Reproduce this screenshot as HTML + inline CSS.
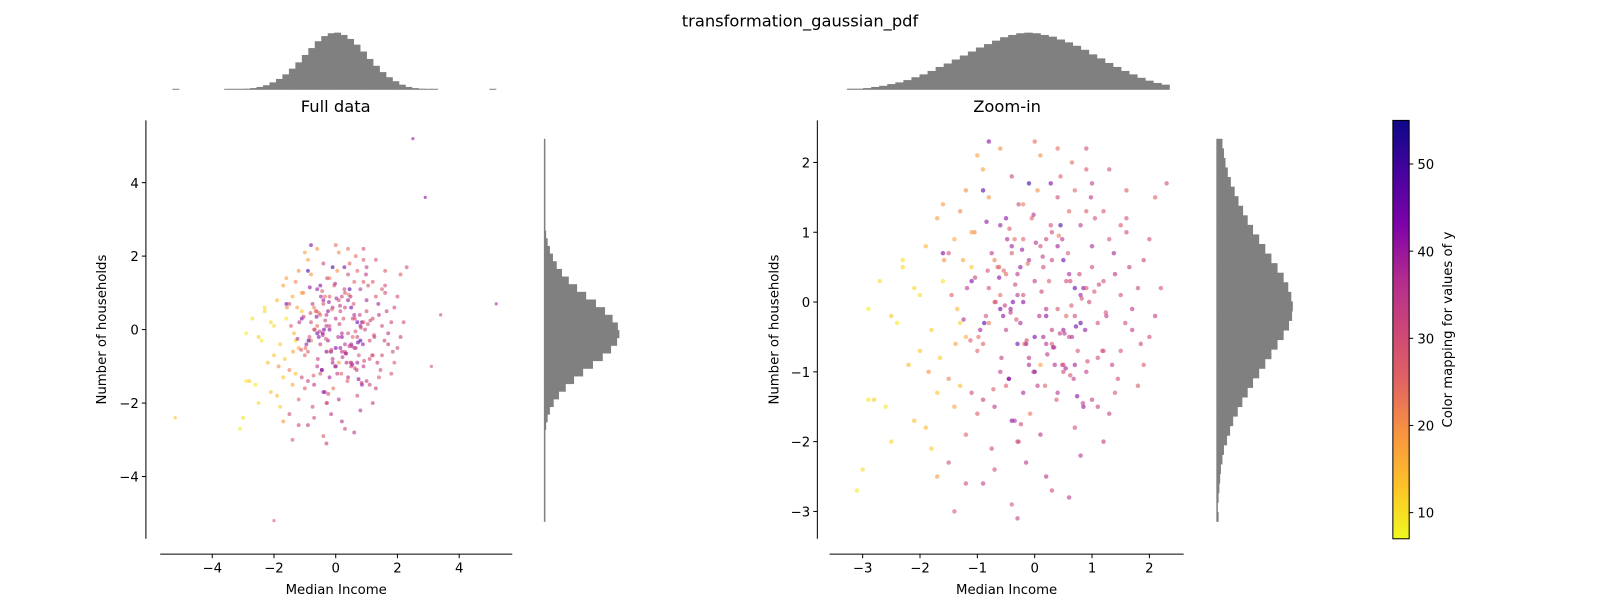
<!DOCTYPE html>
<html><head><meta charset="utf-8">
<style>
html,body{margin:0;padding:0;background:#fff;}
svg{display:block;font-family:"DejaVu Sans","Liberation Sans",sans-serif;}
</style></head>
<body>
<svg id="fig" width="1600" height="600" viewBox="0 0 1568 588" xmlns="http://www.w3.org/2000/svg">
<defs>
<linearGradient id="plasma" x1="0" y1="1" x2="0" y2="0">
<stop offset="0" stop-color="#f0f921"/><stop offset="0.125" stop-color="#fdc328"/><stop offset="0.25" stop-color="#f89540"/><stop offset="0.375" stop-color="#e16462"/><stop offset="0.5" stop-color="#cc4778"/><stop offset="0.625" stop-color="#b12a90"/><stop offset="0.75" stop-color="#7e03a8"/><stop offset="0.875" stop-color="#47039f"/><stop offset="1" stop-color="#0d0887"/>
</linearGradient>
<clipPath id="clipR"><rect x="802" y="118" width="358" height="424"/></clipPath>
</defs>
<text x="784" y="26" font-size="16" text-anchor="middle">transformation_gaussian_pdf</text>
<text x="329" y="110" font-size="16" text-anchor="middle">Full data</text>
<text x="987" y="110" font-size="16" text-anchor="middle">Zoom-in</text>
<g id="gL"></g>
<g id="gR"></g>
<g id="gC"></g>
</svg>
<script>
// ---- data ----
const xs=[-2.9,-2.7,-2.5,-2.3,-2.6,-2.2,-2.0,-1.9,-1.8,-1.7,
-1.6,-1.5,-1.4,-1.3,-1.2,-1.1,-1.0,-0.9,-0.8,-0.7,
-0.6,-0.5,-0.4,-0.3,-0.2,-0.1,0.0,0.1,0.2,0.3,
0.4,0.5,0.6,0.7,0.8,0.9,1.0,1.1,1.2,1.3,
1.4,1.5,1.6,1.7,1.8,1.9,2.0,2.1,2.2,-1.5,
-0.9,-0.4,0.3,0.8,-1.2,1.2,-0.6,0.4,-1.0,0.9,
-0.2,0.2,-0.5,0.5,-0.3,0.3,-0.7,0.7,-0.1,0.1,
-0.25,0.25,-0.45,0.45,-0.65,0.65,-0.85,0.85,-0.05,0.05,
0.15,-0.15,0.35,-0.35,0.55,-0.55,0.75,-0.75,0.95,-0.95,
1.05,-1.05,1.25,-1.25,1.45,-1.45,1.65,-1.65,1.85,-1.85,
0.0,0.2,-0.2,0.4,-0.4,0.6,-0.6,0.8,-0.8,1.0,
-1.0,1.2,-1.2,0.1,-0.1,0.3,-0.3,0.5,-0.5,0.7,
-0.7,0.9,-0.9,1.1,-1.1,1.3,-1.3,1.5,-1.5,1.7,
-1.7,0.05,-0.35,0.65,-0.75,1.35,-1.35,0.45,-0.15,0.85,
-2.1,-2.4,-1.9,-2.3,-1.6,-1.8,-2.0,-1.4,2.0,1.9,
1.6,1.8,2.1,1.4,-0.2,0.6,-0.8,0.2,-0.4,1.0,
0.3,-0.6,0.9,-0.1,0.5,-0.9,0.0,0.7,-0.3,1.2,
-1.1,0.4,-0.5,0.8,-0.7,1.1,0.15,-0.25,0.55,-0.45,
2.3,-3.1,-3.0,-2.8,-1.4,-0.3,0.2,0.9,1.6,-1.1,
-2.9,-2.1,-1.7,-2.5,-1.2,0.6,1.3,-0.8,0.0,-0.4,
-1.3,-0.9,-0.2,0.4,1.0,1.5,-1.6,-0.6,0.1,0.7,
0.12,-0.32,0.52,-0.62,0.82,-0.12,0.32,-0.52,0.72,-0.82,
1.12,-1.12,0.22,-0.22,0.42,-0.42,0.62,-0.02,0.92,-0.72,
0.08,-0.38,0.58,-0.58,0.88,-0.18,0.28,-0.48,0.78,-0.88,
1.18,-1.18,0.38,-0.28,0.48,-0.08,0.68,-0.68,1.38,-1.38,
-0.02,0.18,-0.42,0.62,-0.62,0.98,-0.98,0.28,-0.28,0.48,
1.58,-1.58,0.02,0.44,-0.44,0.74,-0.24,1.04,-1.04,0.34,
-0.54,0.54,-0.14,0.14,1.24,-1.24,0.84,-0.84,0.64,-0.34];
const ys=[-0.1,0.3,-0.2,0.5,-1.5,-0.9,0.1,0.8,-0.4,1.2,
0.3,-1.1,0.9,-0.3,1.6,0.5,-0.7,1.9,0.2,-1.5,
1.1,-0.4,0.7,-2.0,1.4,-0.9,0.3,2.1,-0.2,1.0,
-1.3,0.6,-0.5,1.6,0.1,-1.0,0.8,-0.3,1.3,-1.6,
0.4,-0.7,1.0,-0.1,-1.2,0.6,-0.5,1.5,0.2,-2.3,
-2.6,-2.9,-2.7,-2.2,-1.9,-2.0,2.2,2.2,2.1,1.9,
0.1,-0.1,0.4,-0.4,-0.6,0.6,0.0,0.2,-0.8,0.8,
-0.3,0.3,-1.1,1.1,0.5,-0.5,-0.2,0.2,1.2,-1.2,
0.5,-0.6,-0.9,0.9,0.3,-0.2,-0.7,0.7,0.0,-0.4,
1.2,1.0,-0.2,0.6,-1.1,0.1,0.5,-0.8,-0.6,-1.0,
-0.5,0.9,-1.3,-0.1,-1.7,1.3,-1.0,-0.3,1.5,-1.4,
-1.6,0.3,-0.5,-1.9,1.7,-0.6,0.4,-1.0,1.2,-0.9,
0.6,1.3,-1.4,-0.8,0.3,0.9,-1.2,0.1,0.7,-0.4,
-1.3,1.6,-1.7,2.0,-2.1,-0.9,-0.1,1.8,-2.3,-1.5,
0.2,-0.3,-1.8,0.6,1.4,-2.1,-0.7,-1.5,0.9,-0.9,
1.2,0.2,-0.2,-1.3,0.0,0.4,-0.3,-0.6,0.8,0.5,
-0.4,-0.1,0.2,0.6,-0.9,-0.6,-1.0,-0.2,0.1,-0.7,
1.0,0.8,-1.2,1.1,-2.4,-1.5,-0.5,0.5,-0.2,-1.1,
1.7,-2.7,-2.4,-1.4,-3.0,-3.1,-2.5,2.2,1.6,-1.3,
-1.4,-1.7,-2.5,-2.0,-2.6,-2.8,1.9,2.3,2.3,1.8,
1.3,1.6,0.9,1.5,1.7,1.1,0.7,0.1,-0.9,-1.8,
0.15,-0.25,-0.45,0.35,0.05,0.55,-0.65,-0.05,-0.35,0.45,
0.25,-0.55,-0.75,0.75,0.95,-0.15,-1.05,1.25,-0.85,-1.25,
-0.2,0.0,0.7,-0.8,-0.4,-0.6,1.1,0.9,0.4,-0.3,
-0.7,0.2,-1.4,1.4,0.9,-1.6,-1.1,0.0,0.7,-0.6,
-1.0,-1.2,-0.1,0.3,0.5,1.5,-0.5,1.7,-2.0,-0.9,
-0.3,0.6,0.85,-0.45,1.05,-1.35,-1.75,0.15,0.35,-0.65,
0.45,-0.95,-0.55,0.65,-0.15,-0.25,-1.45,1.15,-0.05,0.25];
const cs=[8,10,12,11,9,14,10,15,12,18,
9,22,16,11,20,13,25,18,30,35,
40,33,28,30,22,38,35,20,42,30,
36,45,32,25,40,34,38,30,27,33,
36,29,31,35,28,32,30,26,29,30,
33,28,31,36,26,34,20,24,18,28,
30,36,25,40,44,32,28,46,35,30,
38,27,33,48,22,36,29,42,26,34,
31,45,37,24,30,41,28,35,32,39,
29,21,34,17,30,26,33,12,31,20,
44,32,38,29,42,25,34,47,19,33,
27,30,16,36,50,28,35,31,42,39,
22,27,33,30,44,28,14,30,29,34,
13,20,38,24,30,33,15,26,35,41,
11,9,14,10,18,12,13,17,30,27,
29,31,33,28,42,38,23,36,40,30,
34,45,28,37,33,26,49,31,36,28,
18,40,27,35,30,32,39,41,25,44,
30,8,10,12,28,33,36,30,27,31,
9,14,19,11,30,35,29,42,24,32,
21,47,26,30,34,28,43,24,18,30,
32,28,36,42,30,24,38,33,45,29,
31,27,35,40,22,34,29,37,30,26,
36,44,28,33,41,25,30,38,32,48,
29,35,27,31,36,23,34,30,39,18,
33,26,40,31,28,35,24,43,30,29,
31,20,37,34,27,42,30,28,33,36,
25,39,30,34,29,37,33,41,28,32];
const histTopL=[0.01,0,0,0,0,0,0,0,0.01,0.01,0.01,0.02,0.03,0.05,0.08,0.13,0.19,0.27,0.37,0.48,0.61,0.73,0.85,0.94,0.99,1.0,0.96,0.89,0.79,0.67,0.54,0.42,0.31,0.22,0.15,0.09,0.05,0.03,0.02,0.01,0.01,0,0,0,0,0,0,0,0,0.01];
const histSideL=[0.01,0,0,0,0,0,0,0.01,0.01,0.01,0.01,0.02,0.03,0.05,0.08,0.13,0.2,0.29,0.4,0.52,0.65,0.78,0.89,0.97,1.0,0.98,0.91,0.81,0.69,0.56,0.44,0.33,0.24,0.17,0.12,0.08,0.05,0.03,0.02,0.01,0.01,0.01,0.01,0,0,0,0,0,0,0.01];
const histTopR=[0.02,0.02,0.03,0.05,0.07,0.1,0.13,0.17,0.22,0.27,0.33,0.4,0.46,0.53,0.6,0.67,0.74,0.8,0.86,0.92,0.96,0.99,1.0,0.99,0.96,0.93,0.88,0.83,0.77,0.7,0.62,0.55,0.47,0.4,0.33,0.27,0.21,0.16,0.12,0.09];
const histSideR=[0.03,0.02,0.03,0.04,0.05,0.06,0.08,0.1,0.14,0.18,0.22,0.28,0.34,0.41,0.48,0.56,0.64,0.72,0.8,0.88,0.95,0.99,1.0,0.98,0.94,0.88,0.8,0.72,0.64,0.56,0.48,0.41,0.35,0.29,0.24,0.19,0.15,0.12,0.1,0.08];
const ticksFullX=[-4,-2,0,2,4], ticksFullY=[-4,-2,0,2,4];
const ticksZoomX=[-3,-2,-1,0,1,2], ticksZoomY=[-3,-2,-1,0,1,2];
const ticksCbar=[10,20,30,40,50];
const cMin=7, cMax=55;

// ---- helpers ----
const NS='http://www.w3.org/2000/svg';
function mk(tag,attrs,parent){const e=document.createElementNS(NS,tag);for(const k in attrs)e.setAttribute(k,attrs[k]);parent.appendChild(e);return e;}
const stops=[[13,8,135],[71,3,159],[126,3,168],[177,42,144],[204,71,120],[225,100,98],[248,149,64],[253,195,40],[240,249,33]];
function plasma(t){t=Math.max(0,Math.min(1,t));const p=t*(stops.length-1);const i=Math.min(stops.length-2,Math.floor(p));const f=p-i;const a=stops[i],b=stops[i+1];return 'rgb('+[0,1,2].map(k=>Math.round(a[k]+(b[k]-a[k])*f)).join(',')+')';}
function colorOf(c){return plasma(1-(c-cMin)/(cMax-cMin));}

function axes(g,o){
  const ys=mk('line',{x1:o.sx,y1:o.yTop,x2:o.sx,y2:o.yBot,stroke:'#000','stroke-width':1},g);
  
  const xsl=mk('line',{x1:o.xL,y1:o.sy,x2:o.xR,y2:o.sy,stroke:'#000','stroke-width':1},g);
  
  o.tx.forEach(v=>{const px=o.X(v);
    const t=mk('line',{x1:px,y1:o.sy,x2:px,y2:o.sy+4,stroke:'#000'},g);
    
    const l=mk('text',{x:px,y:o.sy+18,'font-size':13,'text-anchor':'middle'},g);
    l.textContent=String(v).replace('-','\u2212');
    });
  o.ty.forEach(v=>{const py=o.Y(v);
    const t=mk('line',{x1:o.sx-4,y1:py,x2:o.sx,y2:py,stroke:'#000'},g);
    
    const l=mk('text',{x:o.sx-7,y:py+5,'font-size':13,'text-anchor':'end'},g);
    l.textContent=String(v).replace('-','\u2212');
    });
  const xl=mk('text',{x:(o.xL+o.xR)/2,y:582,'font-size':13,'text-anchor':'middle'},g);
  xl.textContent='Median Income';
  
  const yl=mk('text',{x:0,y:0,'font-size':13,'text-anchor':'middle',transform:'translate('+o.ylx+',323) rotate(-90)'},g);
  yl.textContent='Number of households';
  
}
function scatter(g,X,Y,r){
  for(let i=0;i<xs.length;i++){
    const d=mk('circle',{cx:X(xs[i]),cy:Y(ys[i]),r:r,fill:colorOf(cs[i]),'fill-opacity':0.6},g);
    
    
  }
}
function histTop(g,arr,x0,x1,base,maxH){
  const w=(x1-x0)/arr.length;
  arr.forEach((h,i)=>{if(h<=0)return;const hh=Math.max(1,h*maxH);
    const r=mk('rect',{x:x0+i*w,y:base-hh,width:w+0.4,height:hh,fill:'#808080'},g);
    });
}
function histSide(g,arr,yBot,yTop,left,maxW){
  const h=(yBot-yTop)/arr.length;
  arr.forEach((v,i)=>{const ww=Math.max(1.5,v*maxW);
    const r=mk('rect',{x:left,y:yBot-(i+1)*h,width:ww,height:h+0.4,fill:'#808080'},g);
    });
}

// ---- full data ----
const gL=document.getElementById('gL');
const XL=v=>329+30.25*v, YL=v=>323-36*v;
axes(gL,{sx:143,yTop:118,yBot:528,sy:543,xL:157,xR:502,X:XL,Y:YL,tx:ticksFullX,ty:ticksFullY,ylx:104});
scatter(gL,XL,YL,1.9);
const extraL=[[2.5,5.2,40],[2.9,3.6,42],[5.2,0.7,38],[-5.2,-2.4,14],[-2.0,-5.2,28],[3.4,0.4,33],[3.1,-1.0,30]];
extraL.forEach(p=>{const d=mk('circle',{cx:XL(p[0]),cy:YL(p[1]),r:1.6,fill:colorOf(p[2]),'fill-opacity':0.6},gL);
  });
histTop(gL,histTopL,169,486,88,56);
histSide(gL,histSideL,511,136,533,74);

// ---- zoom-in ----
const gR=document.getElementById('gR');
const XR=v=>1014+56.2*v, YR=v=>296-68.4*v;
axes(gR,{sx:801,yTop:118,yBot:528,sy:543,xL:813,xR:1160,X:XR,Y:YR,tx:ticksZoomX,ty:ticksZoomY,ylx:763});
const gRc=mk('g',{'clip-path':'url(#clipR)'},gR);

scatter(gRc,XR,YR,2.2);
histTop(gR,histTopR,830,1146,88,56);
histSide(gR,histSideR,511,136,1192,75);

// ---- colorbar ----
const gC=document.getElementById('gC');
const CY=v=>528-(v-cMin)/(cMax-cMin)*410;
const cb=mk('rect',{x:1365,y:118,width:16,height:410,fill:'url(#plasma)',stroke:'#000','stroke-width':1},gC);

ticksCbar.forEach(v=>{const py=CY(v);
  const t=mk('line',{x1:1381,y1:py,x2:1385,y2:py,stroke:'#000'},gC);
  
  const l=mk('text',{x:1389,y:py+5,'font-size':13},gC);l.textContent=v;
  });
const cl=mk('text',{x:0,y:0,'font-size':13,'text-anchor':'middle',transform:'translate(1423,323) rotate(-90)'},gC);
cl.textContent='Color mapping for values of y';

</script>
</body></html>
